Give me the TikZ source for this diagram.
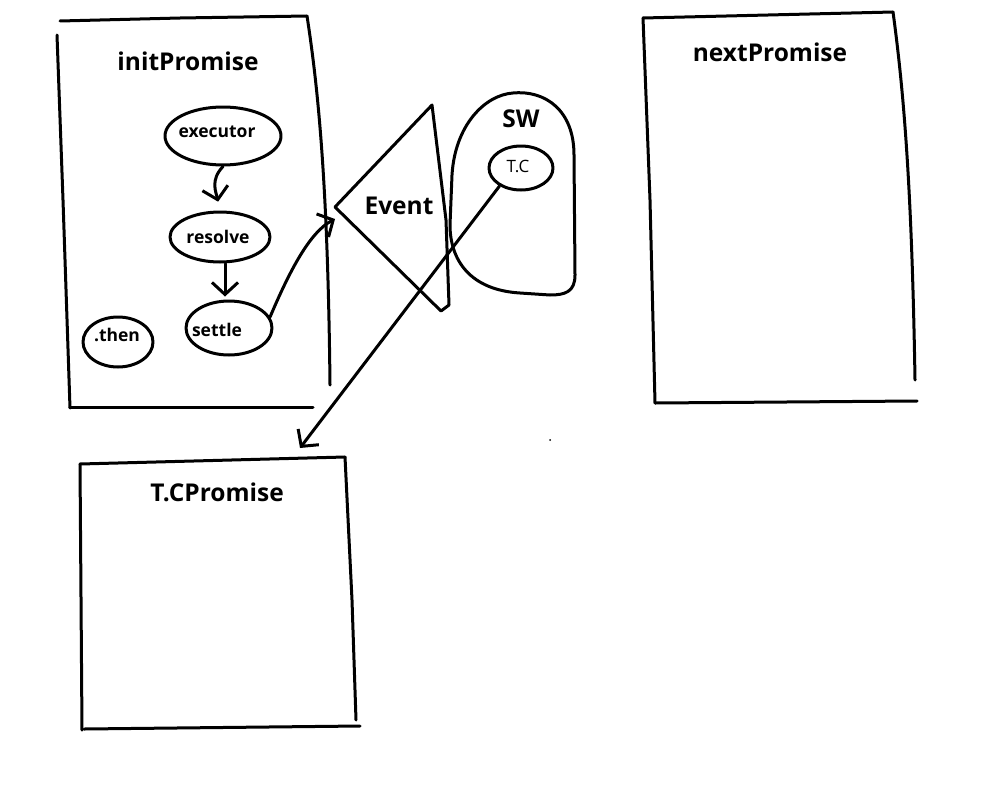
\documentclass[tikz,border=0pt]{standalone}
\usepackage{fontspec}
\setmainfont{Open Sans}
\usetikzlibrary{shapes.geometric,arrows.meta}
\begin{document}
\begin{tikzpicture}[x=1pt,y=-1pt,line width=3pt,line cap=round,line join=round,
  blob/.style={draw,ellipse,inner sep=0pt},
  blobtxt/.style={inner sep=0pt,font=\bfseries\fontsize{17.5}{17.5}\selectfont},
  title/.style={font=\bfseries\fontsize{24.5}{24.5}\selectfont},
  arr/.style={-{Straight Barb[length=12pt,width=26pt]}}]
\useasboundingbox (0,0) rectangle (981,795);
% initPromise box
\draw (60,21) -- (180,18) -- (307,16);
\draw (57,35) -- (63,200) -- (70,408);
\draw (70,407) -- (313,407);
\draw (307,16) .. controls (320,100) and (328,200) .. (330,385);
\node[title] (tInit) at (188,61) {initPromise};
% nextPromise box
\draw (643,18) -- (893,12);
\draw (643,18) -- (650,200) -- (655,403);
\draw (655,403) -- (917,401);
\draw (893,12) .. controls (905,100) and (912,200) .. (915,380);
\node[title] (tNext) at (770,52) {nextPromise};
% T.CPromise box
\draw (80,464) -- (345,457);
\draw (80,464) -- (82,730);
\draw (84,729) -- (360,726);
\draw (345,457) -- (352,600) -- (356,720);
\node[title] (tTC) at (217,492) {T.CPromise};
\coordinate (tctip) at (300,448);
% SW blob
\draw (513,93) .. controls (545,90) and (574,110) .. (574,155) -- (575,275)
  .. controls (575,292) and (565,295) .. (550,295) -- (520,293)
  .. controls (470,290) and (450,260) .. (450,225) -- (452,175)
  .. controls (455,125) and (485,95) .. (513,93);
\node[title] (tSW) at (521,119) {SW};
% Event triangle
\draw (432,105) -- (446,220) -- (449,305) -- (441,311) -- (335,207) -- cycle;
\node[title] (tEvent) at (399,206) {Event};
\coordinate (evin) at (335,219);
% inner nodes
\node[blob,minimum width=116pt,minimum height=58pt] (exec) at (223,136) {};
\node[blobtxt] (execTxt) at (217,132) {executor};
\node[blob,minimum width=100pt,minimum height=50pt] (resolve) at (220,237) {};
\node[blobtxt] (resolveTxt) at (218,237) {resolve};
\node[blob,minimum width=86pt,minimum height=54pt] (settle) at (229,328) {};
\node[blobtxt] (settleTxt) at (217,330) {settle};
\node[blob,minimum width=70pt,minimum height=50pt] (then) at (118,342) {};
\node[blobtxt] (thenTxt) at (117,335) {.then};
\node[blob,minimum width=64pt,minimum height=44pt] (tc) at (521,168) {};
\node[inner sep=0pt,font=\fontsize{17}{17}\selectfont] (tcTxt) at (518,166) {T.C};
% connectors
\draw[arr,shorten >=9pt] (exec.south) .. controls (210,180) and (216,192) .. (resolve.north);
\draw[arr,shorten >=3pt] ([xshift=5pt]resolve.south) -- ([xshift=5pt]resolve.south |- settle.north);
\draw[arr] (settle.15) .. controls (290,270) and (310,232) .. (evin);
\draw[arr] (tc.220) -- (tctip);
\fill (550,440) circle (1pt);
\end{tikzpicture}
\end{document}
